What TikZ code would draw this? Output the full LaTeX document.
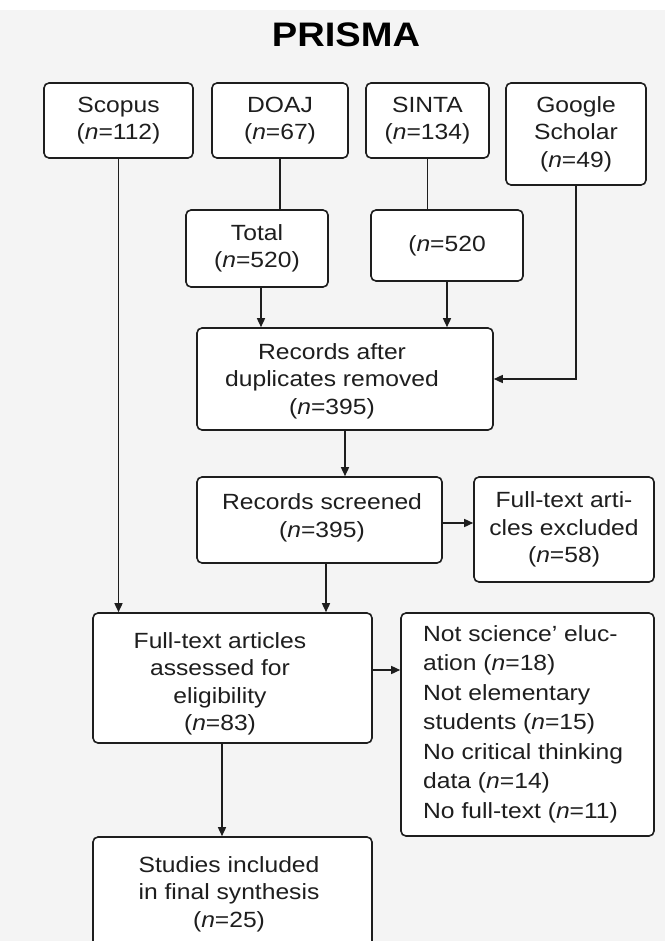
\documentclass[tikz,border=0pt]{standalone}
\usepackage{fontspec}
\setmainfont{Liberation Sans}[FakeStretch=1.12]
\usetikzlibrary{arrows.meta,calc}
\definecolor{bg}{RGB}{244,244,244}
\definecolor{ink}{RGB}{30,30,30}
\begin{document}
\begin{tikzpicture}[x=1pt,y=-1pt,
  box/.style={draw=ink, fill=white, line width=1.6pt, rounded corners=5pt, inner sep=0pt, align=center, text=ink, font=\fontsize{22}{27.5}\selectfont},
  txt/.style={align=center, font=\fontsize{22}{27.5}\selectfont, text=ink, inner sep=0pt},
  arr/.style={draw=ink, line width=1.5pt, -{Triangle[length=9pt,width=8pt]}},
  ln/.style={draw=ink, line width=1.5pt}]
\fill[white] (0,0) rectangle (665,941);
\fill[bg] (0,10) rectangle (665,941);
\useasboundingbox (0,0) rectangle (665,941);

\node[font=\fontsize{34}{40}\selectfont\bfseries, text=black, inner sep=0pt] (title) at (346,35) {PRISMA};

\node[box, minimum width=149pt, minimum height=75pt] (scopus) at (118.5,120.5) {Scopus\\(\textit{n}=112)};
\node[box, minimum width=136pt, minimum height=75pt] (doaj) at (280,120.5) {DOAJ\\(\textit{n}=67)};
\node[box, minimum width=123pt, minimum height=75pt] (sinta) at (427.5,120.5) {SINTA\\(\textit{n}=134)};
\node[box, minimum width=140pt, minimum height=102pt] (google) at (576,134) {Google\\Scholar\\(\textit{n}=49)};

\node[box, minimum width=142pt, minimum height=77pt] (total) at (257,248.5) {Total\\(\textit{n}=520)};
\node[box, minimum width=152pt, minimum height=71pt] (n520) at (447,245.5) {(\textit{n}=520};

\node[box, minimum width=296pt, minimum height=102pt] (records) at (345,379) {};
\node[txt] (recordsT) at (332,381) {Records after\\duplicates removed\\(\textit{n}=395)};

\node[box, minimum width=245pt, minimum height=86pt] (screened) at (319.5,520) {};
\node[txt] (screenedT) at (322,518) {Records screened\\(\textit{n}=395)};

\node[box, minimum width=180pt, minimum height=105pt] (excluded) at (564,529.5) {Full-text arti-\\cles excluded\\(\textit{n}=58)};

\node[box, minimum width=279pt, minimum height=130pt] (assessed) at (232.5,678) {};
\node[txt] (assessedT) at (220,684) {Full-text articles\\assessed for\\eligibility\\(\textit{n}=83)};

\node[box, minimum width=253pt, minimum height=223pt] (reasons) at (527.5,724.5) {};
\node[txt, align=left, anchor=west, font=\fontsize{22}{29.5}\selectfont] (reasonsT) at (423,724) {Not science’ eluc-\\ation (\textit{n}=18)\\Not elementary\\students (\textit{n}=15)\\No critical thinking\\data (\textit{n}=14)\\No full-text (\textit{n}=11)};

\node[box, minimum width=279pt, minimum height=125pt] (studies) at (232.5,899.5) {};
\node[txt] (studiesT) at (229,894) {Studies included\\in final synthesis\\(\textit{n}=25)};

% connectors
\draw[arr] (scopus.south) -- (scopus.south |- assessed.north);
\draw[ln] (doaj.south) -- (doaj.south |- total.north);
\coordinate (t1) at ($(total.south)+(4,0)$);
\draw[arr] (t1) -- (t1 |- records.north);
\draw[ln] (sinta.south) -- (sinta.south |- n520.north);
\draw[arr] (n520.south) -- (n520.south |- records.north);
\draw[arr] (google.south) |- (records.east);
\draw[arr] (records.south) -- (records.south |- screened.north);
\coordinate (s1) at ($(screened.south)+(6.5,0)$);
\draw[arr] (s1) -- (s1 |- assessed.north);
\coordinate (s2) at ($(screened.east)+(0,3)$);
\draw[arr] (s2) -- (s2 -| excluded.west);
\coordinate (a1) at ($(assessed.east)+(0,-8)$);
\draw[arr] (a1) -- (a1 -| reasons.west);
\coordinate (a2) at ($(assessed.south)+(-10.5,0)$);
\draw[arr] (a2) -- (a2 |- studies.north);
\end{tikzpicture}
\end{document}
